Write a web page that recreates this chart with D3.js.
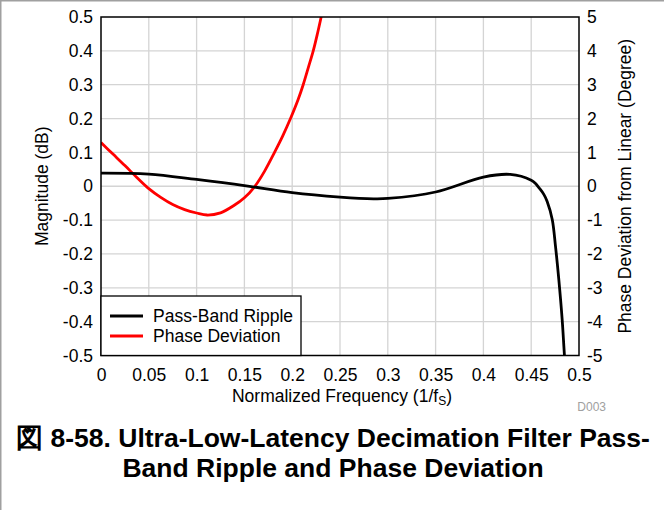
<!DOCTYPE html>
<html>
<head>
<meta charset="utf-8">
<script src="https://cdn.jsdelivr.net/npm/d3@7"></script>
<style>
  html, body { margin: 0; padding: 0; background: #fff; }
  svg { display: block; font-family: "Liberation Sans", Arial, sans-serif; }
</style>
</head>
<body>
<svg id="chart" width="664" height="510"></svg>
<script>
// ---- data ----
const rippleFreq = [0, 0.05, 0.1, 0.15, 0.2, 0.25, 0.285, 0.3, 0.35, 0.4, 0.428, 0.45, 0.4545, 0.458, 0.4632, 0.4667, 0.472, 0.4754, 0.4789, 0.4824, 0.4848, 0.487];
const rippleDb   = [0.039, 0.036, 0.020, 0.002, -0.019, -0.032, -0.037, -0.036, -0.017, 0.027, 0.035, 0.018, 0.008, -0.004, -0.024, -0.045, -0.098, -0.177, -0.276, -0.394, -0.5, -0.58];

const phaseFreq = [0, 0.0125, 0.025, 0.0375, 0.05, 0.0625, 0.075, 0.0875, 0.1, 0.111, 0.125, 0.139, 0.15, 0.161, 0.171, 0.1815, 0.19, 0.1982, 0.2063, 0.2115, 0.217, 0.222, 0.2265, 0.2303, 0.233];
const phaseDeg  = [1.29, 0.95, 0.61, 0.26, -0.07, -0.33, -0.54, -0.69, -0.79, -0.85, -0.785, -0.57, -0.34, 0, 0.44, 1.0, 1.48, 2.0, 2.57, 3.0, 3.52, 4.0, 4.52, 5.0, 5.35];

const xTicks      = [0, 0.05, 0.1, 0.15, 0.2, 0.25, 0.3, 0.35, 0.4, 0.45, 0.5];
const xTickLabels = ["0", "0.05", "0.1", "0.15", "0.2", "0.25", "0.3", "0.35", "0.4", "0.45", "0.5"];
const yLeftTicks  = [-0.5, -0.4, -0.3, -0.2, -0.1, 0, 0.1, 0.2, 0.3, 0.4, 0.5];
const yLeftLabels = ["-0.5", "-0.4", "-0.3", "-0.2", "-0.1", "0", "0.1", "0.2", "0.3", "0.4", "0.5"];
const yRightTicks = [-5, -4, -3, -2, -1, 0, 1, 2, 3, 4, 5];

const seriesNames = ["Pass-Band Ripple", "Phase Deviation"];
const seriesColors = ["#000000", "#ff0000"];

// ---- layout ----
const svg = d3.select("#chart");
const plot = { left: 101, right: 579, top: 17, bottom: 355.5 };

const x = d3.scaleLinear().domain([0, 0.5]).range([plot.left, plot.right]);
const yL = d3.scaleLinear().domain([-0.5, 0.5]).range([plot.bottom, plot.top]);
const yR = d3.scaleLinear().domain([-5, 5]).range([plot.bottom, plot.top]);

// page border (left and top)
svg.append("line").attr("x1", 0.5).attr("x2", 0.5).attr("y1", 0).attr("y2", 510).attr("stroke", "#a0a0a0").attr("stroke-width", 2);
svg.append("line").attr("x1", 0).attr("x2", 664).attr("y1", 0.5).attr("y2", 0.5).attr("stroke", "#a0a0a0").attr("stroke-width", 2);

// grid
const grid = svg.append("g");
grid.selectAll("line.v").data(xTicks.slice(1, -1)).enter().append("line")
  .attr("x1", d => x(d)).attr("x2", d => x(d))
  .attr("y1", plot.top).attr("y2", plot.bottom)
  .attr("stroke", "#d4d4d4").attr("stroke-width", 1.3);
grid.selectAll("line.h").data(yLeftTicks.slice(1, -1)).enter().append("line")
  .attr("x1", plot.left).attr("x2", plot.right)
  .attr("y1", d => yL(d)).attr("y2", d => yL(d))
  .attr("stroke", "#d4d4d4").attr("stroke-width", 1.3);

// clip
svg.append("clipPath").attr("id", "clip").append("rect")
  .attr("x", plot.left).attr("y", plot.top)
  .attr("width", plot.right - plot.left).attr("height", plot.bottom - plot.top);

const rippleLine = d3.line().curve(d3.curveCatmullRom.alpha(0.5))
  .x((d, i) => x(rippleFreq[i])).y(d => yL(d));
const phaseLine = d3.line().curve(d3.curveCatmullRom.alpha(0.5))
  .x((d, i) => x(phaseFreq[i])).y(d => yR(d));

const g = svg.append("g").attr("clip-path", "url(#clip)");
g.append("path").datum(phaseDeg).attr("d", phaseLine)
  .attr("fill", "none").attr("stroke", seriesColors[1]).attr("stroke-width", 2.8);
g.append("path").datum(rippleDb).attr("d", rippleLine)
  .attr("fill", "none").attr("stroke", seriesColors[0]).attr("stroke-width", 2.8);

// frame
svg.append("rect").attr("x", plot.left).attr("y", plot.top)
  .attr("width", plot.right - plot.left).attr("height", plot.bottom - plot.top)
  .attr("fill", "none").attr("stroke", "#000").attr("stroke-width", 1.5);

// axes
const fs = 17.5;
const xAxis = d3.axisBottom(x).tickValues(xTicks).tickFormat((d, i) => xTickLabels[i]).tickSize(0).tickPadding(13);
const ax = svg.append("g").attr("transform", `translate(0,${plot.bottom})`).call(xAxis);
const yAxisL = d3.axisLeft(yL).tickValues(yLeftTicks).tickFormat((d, i) => yLeftLabels[i]).tickSize(0).tickPadding(8);
const al = svg.append("g").attr("transform", `translate(${plot.left},0)`).call(yAxisL);
const yAxisR = d3.axisRight(yR).tickValues(yRightTicks).tickFormat(d => String(d)).tickSize(0).tickPadding(8);
const ar = svg.append("g").attr("transform", `translate(${plot.right},0)`).call(yAxisR);
[ax, al, ar].forEach(a => {
  a.select(".domain").remove();
  a.selectAll("text").attr("font-size", fs).attr("font-family", "Liberation Sans, Arial, sans-serif").attr("fill", "#000");
});

// axis titles
const xt = svg.append("text").attr("x", (plot.left + plot.right) / 2 + 2).attr("y", 402)
  .attr("text-anchor", "middle").attr("font-size", fs).attr("fill", "#000");
xt.append("tspan").text("Normalized Frequency (1/f");
xt.append("tspan").text("S").attr("font-size", 12).attr("dy", 3);
xt.append("tspan").text(")").attr("dy", -3);

svg.append("text").attr("transform", `translate(48,${(plot.top + plot.bottom) / 2}) rotate(-90)`)
  .attr("text-anchor", "middle").attr("font-size", fs).attr("fill", "#000").text("Magnitude (dB)");
svg.append("text").attr("transform", `translate(631,${(plot.top + plot.bottom) / 2}) rotate(-90)`)
  .attr("text-anchor", "middle").attr("font-size", fs).attr("fill", "#000").text("Phase Deviation from Linear (Degree)");

svg.append("text").attr("x", 606).attr("y", 411).attr("text-anchor", "end")
  .attr("font-size", 12).attr("fill", "#a0a0a0").text("D003");

// legend
const lg = svg.append("g");
lg.append("rect").attr("x", plot.left).attr("y", 296).attr("width", 200).attr("height", plot.bottom - 296)
  .attr("fill", "#fff").attr("stroke", "#000").attr("stroke-width", 1.3);
seriesNames.forEach((n, i) => {
  const yy = 316 + i * 20;
  lg.append("line").attr("x1", 110).attr("x2", 143).attr("y1", yy).attr("y2", yy)
    .attr("stroke", seriesColors[i]).attr("stroke-width", 2.8);
  lg.append("text").attr("x", 153).attr("y", yy + 6).attr("font-size", fs).attr("fill", "#000").text(n);
});

// caption
const cap = svg.append("g").attr("font-weight", "bold").attr("font-size", 26.5).attr("fill", "#000");
cap.append("text").attr("x", 333).attr("y", 447).attr("text-anchor", "middle")
  .text("図 8-58. Ultra-Low-Latency Decimation Filter Pass-");
cap.append("text").attr("x", 333).attr("y", 477).attr("text-anchor", "middle")
  .text("Band Ripple and Phase Deviation");
</script>
</body>
</html>
